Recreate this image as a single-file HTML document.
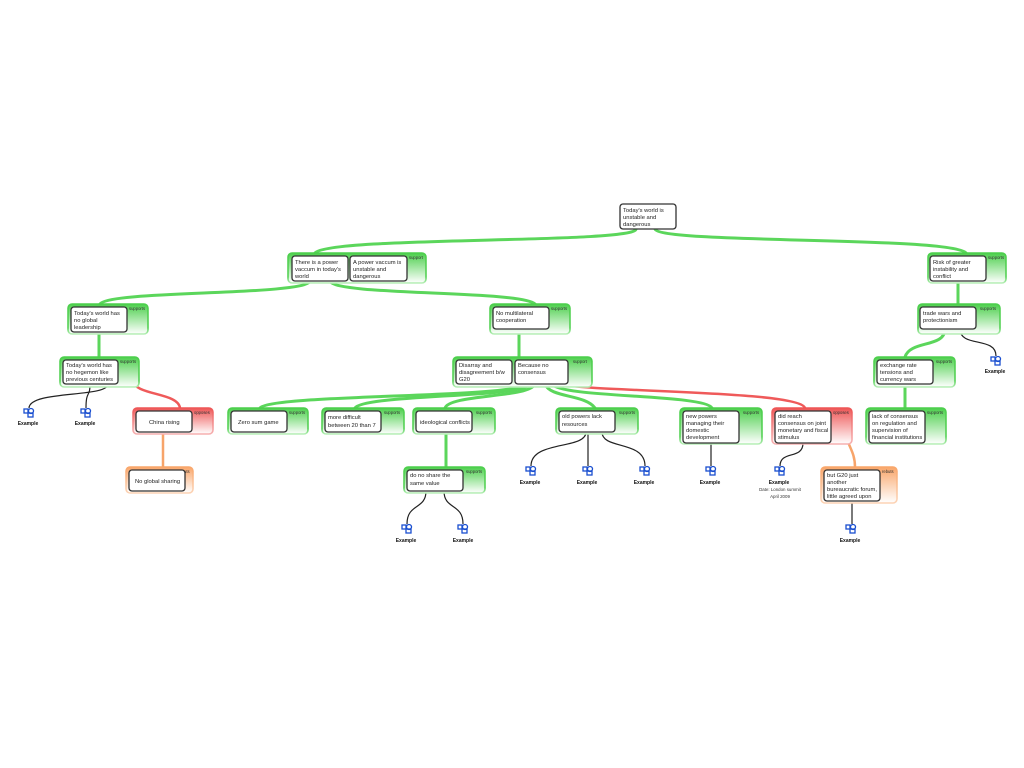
<!DOCTYPE html>
<html><head><meta charset="utf-8"><style>
html,body{margin:0;padding:0;background:#fff;width:1024px;height:768px;overflow:hidden}
svg text{font-family:"Liberation Sans",sans-serif;font-size:5.8px;fill:#222}
.lbl{font-size:4.2px;fill:#333}
.ex{font-size:5px;font-weight:bold;fill:#111}
.sm{font-size:4.4px;fill:#333}
.box{fill:#fff;stroke:#333;stroke-width:1.3}
.g{fill:none;stroke:#5bd65b;stroke-width:3;stroke-linecap:round}
.k{fill:none;stroke:#222;stroke-width:1.2}
.bg{stroke-width:1.5}
</style></head><body>
<svg width="1024" height="768" viewBox="0 0 1024 768" xmlns="http://www.w3.org/2000/svg">
<defs>
<linearGradient id="gg" x1="0" y1="0" x2="0" y2="1"><stop offset="0" stop-color="#4ccf4c"/><stop offset="1" stop-color="#fff"/></linearGradient>
<linearGradient id="rg" x1="0" y1="0" x2="0" y2="1"><stop offset="0" stop-color="#ee5555"/><stop offset="1" stop-color="#fff"/></linearGradient>
<linearGradient id="og" x1="0" y1="0" x2="0" y2="1"><stop offset="0" stop-color="#f9a66a"/><stop offset="1" stop-color="#fff"/></linearGradient>
<linearGradient id="gs" x1="0" y1="0" x2="0" y2="1"><stop offset="0" stop-color="#4ccf4c"/><stop offset="0.8" stop-color="#4ccf4c"/><stop offset="1" stop-color="#b9efb9"/></linearGradient>
<linearGradient id="rs" x1="0" y1="0" x2="0" y2="1"><stop offset="0" stop-color="#ee5555"/><stop offset="1" stop-color="#f6b0b0"/></linearGradient>
<linearGradient id="os" x1="0" y1="0" x2="0" y2="1"><stop offset="0" stop-color="#f9a66a"/><stop offset="1" stop-color="#fcd3b5"/></linearGradient>
<g id="ic"><rect x="-5" y="-4" width="4" height="4" fill="none" stroke="#1a4fd0" stroke-width="1.3"/><circle cx="2" cy="-2" r="2.5" fill="none" stroke="#1a4fd0" stroke-width="1.3"/><rect x="-1" y="0" width="5" height="4" fill="none" stroke="#1a4fd0" stroke-width="1.3"/></g>
</defs>

<path class="g" d="M636,229 C636,244 330,236 315,253"/>
<path class="g" d="M655,229 C660,244 950,236 966,253"/>
<path class="g" d="M310,281 C305,296 110,290 100,304"/>
<path class="g" d="M330,281 C335,296 520,290 535,304"/>
<path class="g" d="M99,332 L99,357"/>
<path class="g" d="M519,329 L519,357"/>
<path class="g" d="M958,281 L958,304"/>
<path class="g" d="M945,329 C945,348 910,340 905,357"/>
<path class="g" d="M905,384 L905,408"/>
<path class="g" d="M525,384 C520,398 270,394 260,408"/>
<path class="g" d="M530,384 C525,398 365,394 355,408"/>
<path class="g" d="M535,384 C530,398 450,394 445,408"/>
<path class="g" d="M545,384 C550,398 585,394 595,408"/>
<path class="g" d="M552,384 C560,398 705,394 712,408"/>
<path class="g" d="M446,432 L446,467"/>
<path fill="none" stroke="#ef5a5a" stroke-width="2.5" d="M180,408 C178,392 135,396 132,380"/>
<path stroke="#ef5a5a" stroke-width="1.4" d="M128,380 L136,380"/>
<path fill="none" stroke="#ef5a5a" stroke-width="2.5" d="M805,408 C800,390 580,392 562,384"/>
<path stroke="#ef5a5a" stroke-width="1.4" d="M558,383 L566,383"/>
<path fill="none" stroke="#f7a46a" stroke-width="2.5" d="M163,432 L163,467"/>
<path stroke="#f7a46a" stroke-width="1.4" d="M159,433 L167,433"/>
<path fill="none" stroke="#f7a46a" stroke-width="2.5" d="M855,467 C855,450 846,445 846,431"/>
<path stroke="#f7a46a" stroke-width="1.4" d="M842,431 L850,431"/>
<path class="k" d="M108,384 C108,398 30,390 29,408"/>
<path class="k" d="M90,384 C90,398 86,390 86,408"/>
<path class="k" d="M960,329 C960,348 996,336 996,356"/>
<path class="k" d="M586,432 C586,450 531,440 531,466"/>
<path class="k" d="M588,432 L588,466"/>
<path class="k" d="M602,432 C602,450 645,440 645,466"/>
<path class="k" d="M711,443 L711,466"/>
<path class="k" d="M803,443 C803,460 780,450 780,466"/>
<path class="k" d="M426,491 C426,510 407,503 407,524"/>
<path class="k" d="M444,491 C444,510 463,503 463,524"/>
<path class="k" d="M852,501 L852,524"/>

<g class="bg">
<rect x="288" y="253" width="138" height="30" rx="4" fill="url(#gg)" stroke="url(#gs)"/>
<rect x="928" y="253" width="78" height="30" rx="4" fill="url(#gg)" stroke="url(#gs)"/>
<rect x="68" y="304" width="80" height="30" rx="4" fill="url(#gg)" stroke="url(#gs)"/>
<rect x="490" y="304" width="80" height="30" rx="4" fill="url(#gg)" stroke="url(#gs)"/>
<rect x="918" y="304" width="82" height="30" rx="4" fill="url(#gg)" stroke="url(#gs)"/>
<rect x="60" y="357" width="79" height="30" rx="4" fill="url(#gg)" stroke="url(#gs)"/>
<rect x="453" y="357" width="139" height="30" rx="4" fill="url(#gg)" stroke="url(#gs)"/>
<rect x="874" y="357" width="81" height="30" rx="4" fill="url(#gg)" stroke="url(#gs)"/>
<rect x="133" y="408" width="80" height="26" rx="4" fill="url(#rg)" stroke="url(#rs)"/>
<rect x="228" y="408" width="80" height="26" rx="4" fill="url(#gg)" stroke="url(#gs)"/>
<rect x="322" y="408" width="82" height="26" rx="4" fill="url(#gg)" stroke="url(#gs)"/>
<rect x="413" y="408" width="82" height="26" rx="4" fill="url(#gg)" stroke="url(#gs)"/>
<rect x="556" y="408" width="82" height="26" rx="4" fill="url(#gg)" stroke="url(#gs)"/>
<rect x="680" y="408" width="82" height="36" rx="4" fill="url(#gg)" stroke="url(#gs)"/>
<rect x="772" y="408" width="80" height="36" rx="4" fill="url(#rg)" stroke="url(#rs)"/>
<rect x="866" y="408" width="80" height="36" rx="4" fill="url(#gg)" stroke="url(#gs)"/>
<rect x="126" y="467" width="67" height="26" rx="4" fill="url(#og)" stroke="url(#os)"/>
<rect x="404" y="467" width="81" height="26" rx="4" fill="url(#gg)" stroke="url(#gs)"/>
<rect x="821" y="467" width="76" height="36" rx="4" fill="url(#og)" stroke="url(#os)"/>
</g>

<text class="lbl" x="409" y="259">support</text>
<text class="lbl" x="988" y="259">supports</text>
<text class="lbl" x="129" y="310">supports</text>
<text class="lbl" x="551" y="310">supports</text>
<text class="lbl" x="980" y="310">supports</text>
<text class="lbl" x="120" y="363">supports</text>
<text class="lbl" x="573" y="363">support</text>
<text class="lbl" x="936" y="363">supports</text>
<text class="lbl" x="194" y="414">opposes</text>
<text class="lbl" x="289" y="414">supports</text>
<text class="lbl" x="384" y="414">supports</text>
<text class="lbl" x="476" y="414">supports</text>
<text class="lbl" x="619" y="414">supports</text>
<text class="lbl" x="743" y="414">supports</text>
<text class="lbl" x="833" y="414">opposes</text>
<text class="lbl" x="927" y="414">supports</text>
<text class="lbl" x="178" y="473">rebuts</text>
<text class="lbl" x="466" y="473">supports</text>
<text class="lbl" x="882" y="473">rebuts</text>

<rect class="box" x="620" y="204" width="56" height="25" rx="3"/>
<text x="623" y="212">Today's world is</text><text x="623" y="219">unstable and</text><text x="623" y="226">dangerous</text>
<rect class="box" x="292" y="256" width="56" height="25" rx="3"/>
<text x="295" y="264">There is a power</text><text x="295" y="271">vaccum in today's</text><text x="295" y="278">world</text>
<rect class="box" x="350" y="256" width="57" height="25" rx="3"/>
<text x="353" y="264">A power vaccum is</text><text x="353" y="271">unstable and</text><text x="353" y="278">dangerous</text>
<rect class="box" x="930" y="256" width="56" height="25" rx="3"/>
<text x="933" y="264">Risk of greater</text><text x="933" y="271">instability and</text><text x="933" y="278">conflict</text>
<rect class="box" x="71" y="307" width="56" height="25" rx="3"/>
<text x="74" y="315">Today's world has</text><text x="74" y="322">no global</text><text x="74" y="329">leadership</text>
<rect class="box" x="493" y="307" width="56" height="22" rx="3"/>
<text x="496" y="315">No multilateral</text><text x="496" y="322">cooperation</text>
<rect class="box" x="920" y="307" width="56" height="22" rx="3"/>
<text x="923" y="315">trade wars and</text><text x="923" y="322">protectionism</text>
<rect class="box" x="63" y="360" width="55" height="24" rx="3"/>
<text x="66" y="367">Today's world has</text><text x="66" y="374">no hegemon like</text><text x="66" y="381">previous centuries</text>
<rect class="box" x="456" y="360" width="56" height="24" rx="3"/>
<text x="459" y="367">Disarray and</text><text x="459" y="374">disagreement b/w</text><text x="459" y="381">G20</text>
<rect class="box" x="515" y="360" width="53" height="24" rx="3"/>
<text x="518" y="367">Because no</text><text x="518" y="374">consensus</text>
<rect class="box" x="877" y="360" width="56" height="24" rx="3"/>
<text x="880" y="367">exchange rate</text><text x="880" y="374">tensions and</text><text x="880" y="381">currency wars</text>
<rect class="box" x="136" y="411" width="56" height="21" rx="3"/>
<text x="149" y="424">China rising</text>
<rect class="box" x="231" y="411" width="56" height="21" rx="3"/>
<text x="238" y="424">Zero sum game</text>
<rect class="box" x="325" y="411" width="56" height="21" rx="3"/>
<text x="328" y="419">more difficult</text><text x="328" y="427">between 20 than 7</text>
<rect class="box" x="416" y="411" width="56" height="21" rx="3"/>
<text x="420" y="424">ideological conflicts</text>
<rect class="box" x="559" y="411" width="56" height="21" rx="3"/>
<text x="562" y="418">old powers lack</text><text x="562" y="426">resources</text>
<rect class="box" x="683" y="411" width="56" height="32" rx="3"/>
<text x="686" y="418">new powers</text><text x="686" y="425">managing their</text><text x="686" y="432">domestic</text><text x="686" y="439">development</text>
<rect class="box" x="775" y="411" width="56" height="32" rx="3"/>
<text x="778" y="418">did reach</text><text x="778" y="425">consensus on joint</text><text x="778" y="432">monetary and fiscal</text><text x="778" y="439">stimulus</text>
<rect class="box" x="869" y="411" width="56" height="32" rx="3"/>
<text x="872" y="418">lack of consensus</text><text x="872" y="425">on regulation and</text><text x="872" y="432">supervision of</text><text x="872" y="439">financial institutions</text>
<rect class="box" x="129" y="470" width="56" height="21" rx="3"/>
<text x="135" y="483">No global sharing</text>
<rect class="box" x="407" y="470" width="56" height="21" rx="3"/>
<text x="410" y="477">do no share the</text><text x="410" y="485">same value</text>
<rect class="box" x="824" y="470" width="56" height="31" rx="3"/>
<text x="827" y="477">but G20 just</text><text x="827" y="484">another</text><text x="827" y="491">bureaucratic forum,</text><text x="827" y="498">little agreed upon</text>

<g text-anchor="middle">
<use href="#ic" x="29" y="413"/><text class="ex" x="28" y="425">Example</text>
<use href="#ic" x="86" y="413"/><text class="ex" x="85" y="425">Example</text>
<use href="#ic" x="996" y="361"/><text class="ex" x="995" y="373">Example</text>
<use href="#ic" x="531" y="471"/><text class="ex" x="530" y="484">Example</text>
<use href="#ic" x="588" y="471"/><text class="ex" x="587" y="484">Example</text>
<use href="#ic" x="645" y="471"/><text class="ex" x="644" y="484">Example</text>
<use href="#ic" x="711" y="471"/><text class="ex" x="710" y="484">Example</text>
<use href="#ic" x="780" y="471"/><text class="ex" x="779" y="484">Example</text>
<text class="sm" x="780" y="491">Date: London summit</text><text class="sm" x="780" y="498">April 2009</text>
<use href="#ic" x="407" y="529"/><text class="ex" x="406" y="542">Example</text>
<use href="#ic" x="463" y="529"/><text class="ex" x="463" y="542">Example</text>
<use href="#ic" x="851" y="529"/><text class="ex" x="850" y="542">Example</text>
</g>
</svg>
</body></html>
